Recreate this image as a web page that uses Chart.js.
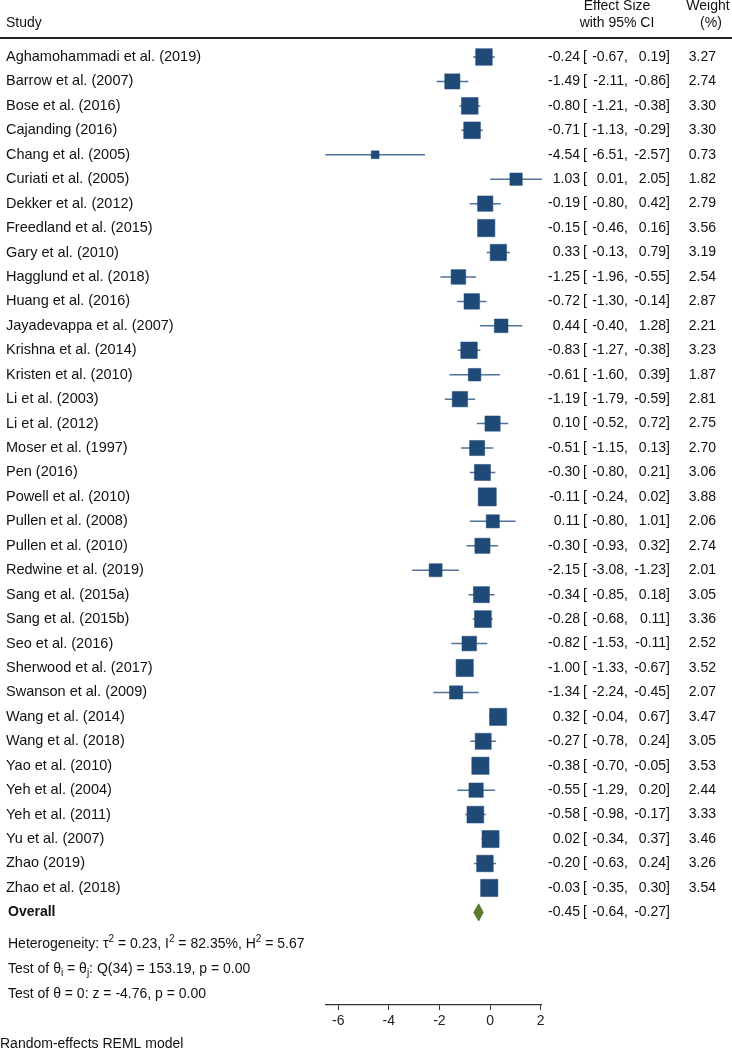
<!DOCTYPE html>
<html>
<head>
<meta charset="utf-8">
<script src="https://cdn.jsdelivr.net/npm/chart.js@4.4.0/dist/chart.umd.min.js"></script>
<style>
  body { margin: 0; background: #fff; }
  canvas { display: block; }
</style>
</head>
<body>
<canvas id="forest" width="732" height="1050"></canvas>
<script>
// study rows, top to bottom
const studies = [
  "Aghamohammadi et al. (2019)", "Barrow et al. (2007)", "Bose et al. (2016)", "Cajanding (2016)",
  "Chang et al. (2005)", "Curiati et al. (2005)", "Dekker et al. (2012)", "Freedland et al. (2015)",
  "Gary et al. (2010)", "Hagglund et al. (2018)", "Huang et al. (2016)", "Jayadevappa et al. (2007)",
  "Krishna et al. (2014)", "Kristen et al. (2010)", "Li et al. (2003)", "Li et al. (2012)",
  "Moser et al. (1997)", "Pen (2016)", "Powell et al. (2010)", "Pullen et al. (2008)",
  "Pullen et al. (2010)", "Redwine et al. (2019)", "Sang et al. (2015a)", "Sang et al. (2015b)",
  "Seo et al. (2016)", "Sherwood et al. (2017)", "Swanson et al. (2009)", "Wang et al. (2014)",
  "Wang et al. (2018)", "Yao et al. (2010)", "Yeh et al. (2004)", "Yeh et al. (2011)",
  "Yu et al. (2007)", "Zhao (2019)", "Zhao et al. (2018)"
];
const effects = [-0.24, -1.49, -0.80, -0.71, -4.54, 1.03, -0.19, -0.15, 0.33, -1.25, -0.72, 0.44,
  -0.83, -0.61, -1.19, 0.10, -0.51, -0.30, -0.11, 0.11, -0.30, -2.15, -0.34, -0.28, -0.82, -1.00,
  -1.34, 0.32, -0.27, -0.38, -0.55, -0.58, 0.02, -0.20, -0.03];
const lowers = [-0.67, -2.11, -1.21, -1.13, -6.51, 0.01, -0.80, -0.46, -0.13, -1.96, -1.30, -0.40,
  -1.27, -1.60, -1.79, -0.52, -1.15, -0.80, -0.24, -0.80, -0.93, -3.08, -0.85, -0.68, -1.53, -1.33,
  -2.24, -0.04, -0.78, -0.70, -1.29, -0.98, -0.34, -0.63, -0.35];
const uppers = [0.19, -0.86, -0.38, -0.29, -2.57, 2.05, 0.42, 0.16, 0.79, -0.55, -0.14, 1.28,
  -0.38, 0.39, -0.59, 0.72, 0.13, 0.21, 0.02, 1.01, 0.32, -1.23, 0.18, 0.11, -0.11, -0.67,
  -0.45, 0.67, 0.24, -0.05, 0.20, -0.17, 0.37, 0.24, 0.30];
const weights = [3.27, 2.74, 3.30, 3.30, 0.73, 1.82, 2.79, 3.56, 3.19, 2.54, 2.87, 2.21,
  3.23, 1.87, 2.81, 2.75, 2.70, 3.06, 3.88, 2.06, 2.74, 2.01, 3.05, 3.36, 2.52, 3.52,
  2.07, 3.47, 3.05, 3.53, 2.44, 3.33, 3.46, 3.26, 3.54];

// overall estimate [effect, lower, upper]
const overall = [-0.45, -0.64, -0.27];
const tau2 = 0.23, i2 = 82.35, h2 = 5.67;
const qStat = 153.19, qDf = 34, qP = 0.00;
const zStat = -4.76, zP = 0.00;

const xTicks = [-6, -4, -2, 0, 2];

const FONT = '"Liberation Sans", Arial, sans-serif';
const overallRow = studies.length + 1;

// CI lines as one line dataset, broken by gaps
const ciData = [];
studies.forEach((s, i) => {
  ciData.push({ x: lowers[i], y: i + 1 });
  ciData.push({ x: uppers[i], y: i + 1 });
  ciData.push({ x: uppers[i], y: null });
});

const squareData = effects.map((e, i) => ({ x: e, y: i + 1 }));
const squareRadius = weights.map(w => 6.5 * Math.sqrt(w)); // area ~ weight

const dH = 0.35;
const diamondTop = [
  { x: overall[1], y: overallRow }, { x: overall[0], y: overallRow - dH }, { x: overall[2], y: overallRow }
];
const diamondBottom = [
  { x: overall[1], y: overallRow }, { x: overall[0], y: overallRow + dH }, { x: overall[2], y: overallRow }
];

function drawRich(ctx, x, y, parts) {
  parts.forEach(p => {
    let size = 14, dy = 0;
    if (p.sup) { size = 10; dy = -5; }
    if (p.sub) { size = 10; dy = 4; }
    ctx.font = size + 'px ' + FONT;
    ctx.fillText(p.t, x, y + dy);
    x += ctx.measureText(p.t).width;
  });
}

const textPlugin = {
  id: 'forestText',
  afterDraw(chart) {
    const ctx = chart.ctx;
    const ys = chart.scales.y;
    ctx.save();
    ctx.fillStyle = '#111';
    ctx.textBaseline = 'middle';
    ctx.font = '14px ' + FONT;

    // header
    ctx.textAlign = 'left';
    ctx.fillText('Study', 6, 23);
    ctx.textAlign = 'center';
    ctx.fillText('Effect Size', 617, 6);
    ctx.fillText('with 95% CI', 617, 23);
    ctx.fillText('Weight', 708, 6);
    ctx.fillText('(%)', 711, 23);
    ctx.strokeStyle = '#222';
    ctx.lineWidth = 2;
    ctx.beginPath();
    ctx.moveTo(0, 38);
    ctx.lineTo(732, 38);
    ctx.stroke();

    // study rows
    studies.forEach((s, i) => {
      const y = ys.getPixelForValue(i + 1);
      ctx.textAlign = 'left';
      ctx.font = '14.5px ' + FONT;
      ctx.fillText(s, 6, y);
      ctx.font = '14px ' + FONT;
      ctx.textAlign = 'right';
      ctx.fillText(effects[i].toFixed(2), 580, y);
      ctx.textAlign = 'left';
      ctx.fillText('[', 583, y);
      ctx.textAlign = 'right';
      ctx.fillText(lowers[i].toFixed(2) + ',', 628, y);
      ctx.fillText(uppers[i].toFixed(2) + ']', 670, y);
      ctx.fillText(weights[i].toFixed(2), 716, y);
    });

    // overall row
    let y = ys.getPixelForValue(overallRow);
    ctx.textAlign = 'left';
    ctx.font = 'bold 14px ' + FONT;
    ctx.fillText('Overall', 8, y);
    ctx.font = '14px ' + FONT;
    ctx.textAlign = 'right';
    ctx.fillText(overall[0].toFixed(2), 580, y);
    ctx.textAlign = 'left';
    ctx.fillText('[', 583, y);
    ctx.textAlign = 'right';
    ctx.fillText(overall[1].toFixed(2) + ',', 628, y);
    ctx.fillText(overall[2].toFixed(2) + ']', 670, y);

    // heterogeneity and tests
    ctx.textAlign = 'left';
    drawRich(ctx, 8, ys.getPixelForValue(overallRow + 1.29), [
      { t: 'Heterogeneity: τ' }, { t: '2', sup: true }, { t: ' = ' + tau2.toFixed(2) + ', I' },
      { t: '2', sup: true }, { t: ' = ' + i2.toFixed(2) + '%, H' }, { t: '2', sup: true },
      { t: ' = ' + h2.toFixed(2) }
    ]);
    drawRich(ctx, 8, ys.getPixelForValue(overallRow + 2.32), [
      { t: 'Test of θ' }, { t: 'i', sub: true }, { t: ' = θ' }, { t: 'j', sub: true },
      { t: ': Q(' + qDf + ') = ' + qStat.toFixed(2) + ', p = ' + qP.toFixed(2) }
    ]);
    drawRich(ctx, 8, ys.getPixelForValue(overallRow + 3.34), [
      { t: 'Test of θ = 0: z = ' + zStat.toFixed(2) + ', p = ' + zP.toFixed(2) }
    ]);

    ctx.font = '14px ' + FONT;
    ctx.fillText('Random-effects REML model', 0, 1044);
    ctx.restore();
  }
};

new Chart(document.getElementById('forest').getContext('2d'), {
  type: 'scatter',
  data: {
    datasets: [
      {
        type: 'scatter',
        data: squareData,
        pointStyle: 'rect',
        pointRadius: squareRadius,
        backgroundColor: '#1f4a78',
        borderColor: '#1f4a78',
        borderWidth: 0.5,
        clip: false,
        order: 0
      },
      {
        type: 'line',
        data: ciData,
        showLine: true,
        spanGaps: false,
        pointRadius: 0,
        borderColor: '#52739a',
        borderWidth: 1.5,
        fill: false,
        clip: false,
        order: 1
      },
      {
        type: 'line',
        data: diamondTop,
        pointRadius: 0,
        borderColor: '#5b7a2e',
        backgroundColor: '#5b7a2e',
        borderWidth: 1,
        tension: 0,
        fill: '+1',
        order: 2
      },
      {
        type: 'line',
        data: diamondBottom,
        pointRadius: 0,
        borderColor: '#5b7a2e',
        borderWidth: 1,
        tension: 0,
        fill: false,
        order: 2
      }
    ]
  },
  options: {
    responsive: false,
    animation: false,
    layout: { padding: { left: 325.3, right: 190.1, top: 32.56, bottom: 23 } },
    plugins: { legend: { display: false }, tooltip: { enabled: false } },
    scales: {
      x: {
        type: 'linear',
        min: -6.51,
        max: 2.05,
        afterFit(scale) { scale.height = 22; },
        afterBuildTicks(scale) { scale.ticks = xTicks.map(v => ({ value: v })); },
        grid: { drawOnChartArea: false, drawTicks: true, tickLength: 5, color: '#333' },
        border: { display: true, color: '#333', width: 1.2 },
        ticks: { font: { family: FONT, size: 14 }, color: '#222', padding: 3, maxRotation: 0, autoSkip: false }
      },
      y: {
        type: 'linear',
        min: 0,
        max: 39.79,
        reverse: true,
        display: false
      }
    }
  },
  plugins: [textPlugin]
});
</script>
</body>
</html>
